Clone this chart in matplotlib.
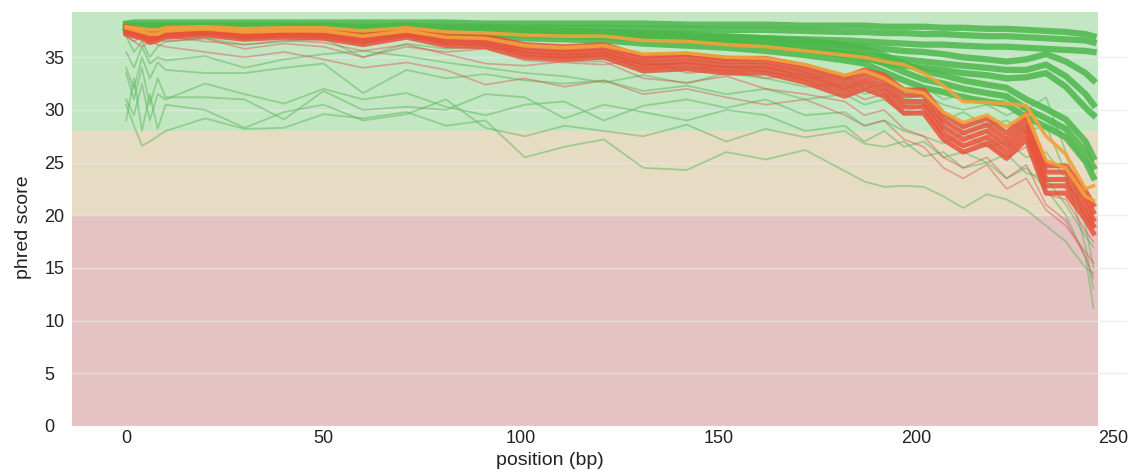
import matplotlib.pyplot as plt

plt.rcParams['font.family'] = ['Liberation Sans', 'DejaVu Sans']

# read positions (bp) shared by every sample
positions = [0, 2, 4, 6, 8, 10, 20, 30, 40, 50, 60, 71, 81, 91, 101, 111, 121, 131,
             142, 152, 162, 172, 182, 187, 192, 197, 202, 207, 212, 218, 223, 228,
             233, 238, 243, 245]

# passing samples (green), top bundle
green_top_1 = [38.2, 38.3, 38.3, 38.3, 38.3, 38.3, 38.3, 38.3, 38.3, 38.3, 38.3, 38.3, 38.3, 38.2, 38.2, 38.2, 38.2, 38.2,
               38.1, 38.1, 38.1, 38.0, 38.0, 38.0, 37.9, 37.9, 37.9, 37.8, 37.8, 37.7, 37.7, 37.6, 37.5, 37.4, 37.2, 37.0]
green_top_2 = [37.9, 38.0, 38.0, 38.0, 38.0, 38.0, 38.0, 38.0, 38.0, 38.0, 37.9, 38.0, 37.9, 37.9, 37.8, 37.8, 37.8, 37.7,
               37.7, 37.6, 37.6, 37.5, 37.4, 37.4, 37.3, 37.3, 37.2, 37.2, 37.1, 37.0, 37.0, 36.9, 36.8, 36.7, 36.6, 36.4]
green_top_3 = [37.5, 37.7, 37.7, 37.7, 37.7, 37.7, 37.7, 37.7, 37.7, 37.6, 37.5, 37.6, 37.5, 37.4, 37.3, 37.3, 37.2, 37.1,
               37.0, 36.9, 36.8, 36.7, 36.6, 36.5, 36.4, 36.3, 36.2, 36.2, 36.1, 36.0, 36.0, 35.9, 35.8, 35.7, 35.6, 35.5]
# green middle bundle
green_mid_1 = [37.8, 37.9, 37.9, 37.9, 37.9, 37.9, 37.9, 37.9, 37.9, 37.8, 37.7, 37.8, 37.7, 37.6, 37.5, 37.5, 37.4, 37.3,
               37.2, 37.0, 36.8, 36.6, 36.2, 36.0, 35.8, 35.6, 35.5, 35.3, 35.0, 34.8, 34.6, 34.8, 35.3, 34.6, 33.5, 32.8]
green_mid_2 = [37.6, 37.7, 37.7, 37.7, 37.7, 37.7, 37.7, 37.7, 37.7, 37.6, 37.5, 37.6, 37.5, 37.4, 37.3, 37.2, 37.1, 37.0,
               36.9, 36.7, 36.4, 36.1, 35.6, 35.3, 35.0, 34.8, 34.6, 34.4, 34.2, 34.0, 33.8, 33.8, 34.3, 33.2, 31.5, 30.5]
green_mid_3 = [37.4, 37.5, 37.5, 37.5, 37.5, 37.5, 37.5, 37.5, 37.5, 37.4, 37.3, 37.4, 37.3, 37.2, 37.1, 37.0, 36.9, 36.8,
               36.6, 36.4, 36.1, 35.7, 35.2, 34.9, 34.5, 34.2, 34.0, 33.8, 33.5, 33.3, 33.0, 33.1, 33.5, 32.2, 30.2, 29.5]
# green bundle that drops at the read end
green_drop_1 = [38.1, 38.0, 38.0, 38.0, 38.0, 38.0, 38.0, 38.0, 38.0, 37.9, 37.8, 37.9, 37.8, 37.7, 37.6, 37.5, 37.4, 37.3,
                37.1, 36.9, 36.8, 36.4, 36.1, 35.8, 35.2, 34.4, 33.7, 33.3, 32.8, 32.4, 32.1, 31.0, 30.1, 29.1, 27.0, 25.5]
green_drop_2 = [37.9, 37.8, 37.8, 37.7, 37.7, 37.8, 37.8, 37.7, 37.7, 37.6, 37.5, 37.6, 37.4, 37.3, 37.2, 37.1, 37.0, 36.8,
                36.6, 36.4, 36.2, 35.8, 35.4, 35.1, 34.4, 33.6, 32.9, 32.5, 32.0, 31.6, 31.3, 30.1, 29.2, 28.2, 26.0, 24.6]
green_drop_3 = [37.6, 37.5, 37.5, 37.4, 37.4, 37.5, 37.5, 37.4, 37.4, 37.3, 37.2, 37.3, 37.1, 37.0, 36.8, 36.7, 36.6, 36.3,
                36.1, 35.9, 35.6, 35.2, 34.7, 34.4, 33.6, 32.8, 32.1, 31.7, 31.2, 30.8, 30.5, 29.3, 28.4, 27.4, 25.1, 23.6]

# warning samples (orange)
orange_1 = [37.9, 37.8, 37.7, 37.6, 37.6, 37.8, 37.9, 37.7, 37.8, 37.8, 37.5, 37.8, 37.4, 37.3, 37.1, 37.0, 37.0, 36.6,
            36.5, 36.2, 36.0, 35.6, 35.2, 35.0, 34.6, 34.3, 33.5, 32.3, 30.8, 30.7, 30.6, 30.4, 27.5, 25.8, 22.5, 22.8]
orange_2 = [37.8, 37.6, 37.4, 37.2, 37.2, 37.5, 37.7, 37.4, 37.5, 37.5, 37.0, 37.5, 36.9, 36.8, 36.1, 35.9, 36.1, 35.3,
            35.4, 35.0, 34.9, 34.3, 33.3, 33.7, 33.0, 31.9, 31.6, 29.8, 28.8, 29.5, 28.4, 29.6, 25.2, 24.5, 21.8, 21.4]

# failing samples (red)
red_1 = [37.9, 37.8, 37.6, 37.4, 37.4, 37.7, 37.8, 37.5, 37.7, 37.6, 37.2, 37.7, 37.1, 37.0, 36.2, 36.0, 36.2, 35.1,
         35.3, 34.9, 34.9, 34.2, 33.1, 33.8, 33.3, 31.9, 31.9, 29.6, 28.4, 29.2, 27.8, 29.6, 24.7, 24.7, 22.3, 21.0]
red_2 = [37.8, 37.6, 37.4, 37.2, 37.2, 37.5, 37.7, 37.3, 37.5, 37.4, 37.0, 37.5, 36.9, 36.8, 35.9, 35.7, 35.9, 34.8,
         35.0, 34.6, 34.6, 33.8, 32.7, 33.4, 32.8, 31.4, 31.4, 29.0, 27.8, 28.6, 27.2, 29.0, 24.1, 24.1, 21.7, 20.3]
red_3 = [37.6, 37.4, 37.2, 36.9, 37.0, 37.3, 37.5, 37.1, 37.3, 37.2, 36.7, 37.3, 36.6, 36.5, 35.6, 35.4, 35.6, 34.4,
         34.6, 34.2, 34.2, 33.4, 32.2, 32.9, 32.3, 30.8, 30.8, 28.4, 27.2, 28.0, 26.6, 28.4, 23.4, 23.4, 21.0, 19.6]
red_4 = [37.4, 37.2, 37.0, 36.7, 36.8, 37.1, 37.3, 36.9, 37.1, 37.0, 36.5, 37.1, 36.4, 36.3, 35.3, 35.1, 35.3, 34.1,
         34.3, 33.9, 33.9, 33.0, 31.8, 32.5, 31.8, 30.3, 30.3, 27.8, 26.6, 27.4, 26.0, 27.8, 22.8, 22.8, 20.3, 19.0]
red_5 = [37.2, 37.0, 36.8, 36.4, 36.6, 36.9, 37.1, 36.7, 36.9, 36.8, 36.2, 36.9, 36.1, 36.0, 35.0, 34.8, 35.0, 33.7,
         33.9, 33.5, 33.5, 32.6, 31.3, 32.0, 31.3, 29.7, 29.7, 27.2, 26.0, 26.8, 25.4, 27.2, 22.1, 22.1, 19.6, 18.3]

# low quality single samples drawn faint
faint_green_1 = [30.5, 28.5, 26.6, 27.0, 27.5, 28.0, 29.2, 28.2, 28.3, 29.6, 29.2, 29.8, 28.5, 29.0, 25.5, 26.5, 27.2, 24.5,
                 24.3, 26.0, 25.3, 26.2, 24.2, 23.2, 22.7, 22.8, 22.7, 21.8, 20.7, 22.0, 21.5, 20.5, 19.0, 17.5, 15.0, 14.5]
faint_green_2 = [33.5, 31.0, 34.0, 30.5, 33.0, 31.2, 31.2, 31.0, 29.1, 31.8, 30.0, 30.3, 30.0, 31.5, 31.2, 29.2, 30.5, 29.8,
                 29.0, 30.0, 29.5, 28.0, 28.5, 27.0, 28.0, 26.5, 27.0, 25.5, 26.0, 25.0, 25.8, 24.0, 23.5, 21.0, 18.0, 17.0]
faint_green_3 = [31.0, 29.5, 32.5, 29.0, 31.5, 31.0, 32.5, 31.5, 30.6, 32.0, 31.0, 31.6, 30.3, 29.5, 30.5, 30.8, 29.0, 30.4,
                 31.0, 30.2, 31.0, 29.5, 29.8, 28.5, 29.0, 28.0, 27.5, 26.8, 27.8, 26.5, 27.0, 25.5, 26.0, 23.5, 20.0, 19.0]
faint_green_4 = [34.0, 32.0, 35.0, 33.0, 34.5, 33.8, 33.5, 33.5, 34.0, 34.4, 31.6, 33.8, 33.0, 33.4, 32.8, 32.5, 32.8, 31.8,
                 32.3, 31.5, 32.0, 31.0, 31.5, 30.5, 31.0, 29.8, 30.5, 29.0, 29.8, 28.5, 29.0, 28.0, 28.5, 24.0, 17.0, 13.0]
faint_green_5 = [35.5, 34.0, 36.0, 34.4, 35.0, 34.7, 35.1, 34.0, 34.8, 35.3, 35.6, 35.1, 34.5, 34.0, 33.5, 33.2, 32.6, 33.3,
                 32.5, 33.5, 33.0, 32.2, 32.5, 31.5, 32.0, 31.0, 31.5, 30.5, 30.0, 30.5, 29.5, 30.2, 29.0, 27.5, 25.0, 24.0]
faint_green_6 = [29.0, 33.0, 28.0, 31.5, 28.2, 30.5, 30.0, 28.3, 29.8, 30.5, 29.0, 29.6, 31.0, 28.3, 27.5, 28.5, 28.0, 27.5,
                 28.6, 27.0, 28.2, 27.4, 28.0, 26.8, 26.5, 27.0, 25.6, 26.0, 24.5, 25.0, 23.5, 24.5, 22.5, 20.0, 16.0, 11.2]
faint_green_7 = [37.0, 35.5, 36.5, 35.0, 36.0, 36.5, 36.8, 36.2, 36.5, 36.8, 35.0, 36.3, 35.8, 36.0, 35.5, 35.0, 35.3, 34.5,
                 33.8, 34.2, 33.6, 33.0, 33.3, 32.0, 32.5, 31.8, 32.2, 31.0, 31.5, 30.5, 31.0, 30.0, 31.2, 26.0, 19.0, 15.0]
faint_red_1 = [37.0, 36.5, 37.0, 36.5, 36.8, 36.5, 36.8, 35.8, 36.3, 36.0, 35.0, 36.0, 35.5, 35.8, 34.7, 34.5, 34.3, 34.8,
               33.5, 33.8, 33.0, 33.5, 32.0, 31.0, 31.5, 29.5, 30.0, 27.5, 26.5, 27.0, 25.5, 26.5, 22.0, 21.5, 18.5, 17.5]
faint_red_2 = [37.3, 37.0, 36.8, 36.6, 36.9, 37.0, 36.5, 36.2, 36.6, 36.4, 35.6, 36.2, 35.3, 34.4, 34.2, 34.6, 34.6, 33.0,
               32.6, 33.2, 32.0, 31.5, 30.8, 29.5, 30.0, 28.2, 27.5, 25.5, 24.5, 25.5, 23.5, 24.8, 21.0, 19.5, 16.0, 14.0]
faint_red_3 = [37.0, 36.5, 36.0, 36.5, 36.2, 36.0, 35.5, 35.0, 35.5, 34.8, 34.0, 34.5, 33.8, 32.4, 33.0, 32.2, 32.8, 31.5,
               32.0, 31.2, 30.5, 31.0, 29.5, 28.5, 29.0, 27.2, 26.5, 24.5, 23.5, 24.8, 22.5, 23.5, 20.5, 19.0, 16.5, 15.5]

# quality zones: (low, high, colour)
zones = [(28, 39.3, '#c3e6c3'), (20, 28, '#e6dcc3'), (0, 20, '#e6c3c3')]
xticks = [0, 50, 100, 150, 200, 250]
yticks = [0, 5, 10, 15, 20, 25, 30, 35]

XMIN, XMAX = -13.7, 253.5
ZONE_END = 246.2

fig = plt.figure(figsize=(11.36, 4.73), dpi=100)
ax = fig.add_axes([0.0634, 0.0994, 0.9287, 0.8753])
ax.set_xlim(XMIN, XMAX)
ax.set_ylim(0, 39.3)

frac = (ZONE_END - XMIN) / (XMAX - XMIN)
for lo, hi, col in zones:
    ax.axhspan(lo, hi, xmin=0, xmax=frac, color=col, lw=0, zorder=0.2)

ax.set_axisbelow(True)
ax.yaxis.grid(True, color='#e8e8e8', alpha=0.75, lw=1)
ax.xaxis.grid(False)

faint_green = [faint_green_1, faint_green_2, faint_green_3, faint_green_4,
               faint_green_5, faint_green_6, faint_green_7]
faint_red = [faint_red_1, faint_red_2, faint_red_3]
for s in faint_green:
    ax.plot(positions, s, color='#5cb85c', lw=1.3, alpha=0.5, zorder=2)
for s in faint_red:
    ax.plot(positions, s, color='#d9534f', lw=1.2, alpha=0.45, zorder=2)

for s in [green_top_1, green_top_2, green_top_3, green_mid_1, green_mid_2,
          green_mid_3, green_drop_1, green_drop_2, green_drop_3]:
    ax.plot(positions, s, color='#4cb84c', lw=4.5, alpha=0.85, zorder=3)
for s in [red_1, red_2, red_3, red_4, red_5]:
    ax.plot(positions, s, color='#e8533b', lw=3.6, alpha=0.85, zorder=4)
for s in [orange_1, orange_2]:
    ax.plot(positions, s, color='#f3a23a', lw=2.6, alpha=0.9, zorder=5)

for sp in ax.spines.values():
    sp.set_visible(False)

ax.set_xticks(xticks)
ax.set_yticks(yticks)
ax.tick_params(length=0, labelsize=13, labelcolor='#222222')
ax.tick_params(axis='x', pad=3)
ax.tick_params(axis='y', pad=20)
for lab in ax.get_yticklabels():
    lab.set_horizontalalignment('left')

ax.set_xlabel('position (bp)', fontsize=14, color='#222222')
ax.xaxis.set_label_coords(0.453, -0.062)
ax.set_ylabel('phred score', fontsize=14, color='#222222')
ax.yaxis.set_label_coords(-0.038, 0.48)

plt.savefig('out.png', dpi=100)
